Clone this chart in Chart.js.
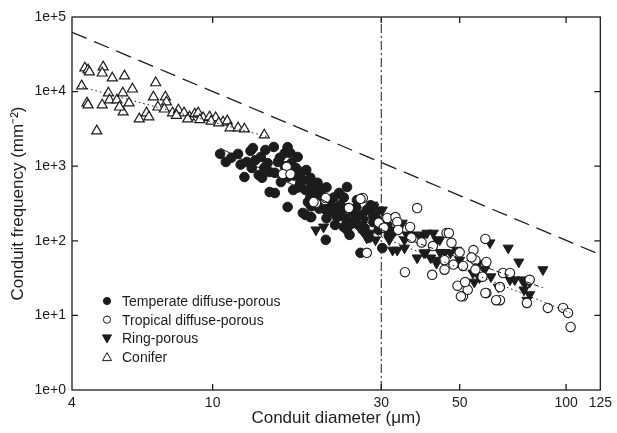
<!DOCTYPE html>
<html>
<head>
<meta charset="utf-8">
<script src="https://cdn.jsdelivr.net/npm/chart.js@4.4.0/dist/chart.umd.min.js"></script>
<style>
    body { margin: 0; background: #fff; }
</style>
</head>
<body>
<canvas id="myChart" width="617" height="433"></canvas>
<script>
// values (diameter um, frequency per mm2)
let temperatePts = [[10.5,1460],[10.9,1140],[11.8,1460],[12.8,1600],[14.1,1650],[14.9,1810],[13.7,1330],[14.3,1100],[12.0,1050],[12.5,1140],
    [12.9,946],[12.3,716],[13.5,762],[13.8,700],[14.5,836],[15.0,815],[15.3,1140],[16.0,1500],[16.6,1500],[17.4,1330],
    [16.7,1100],[17.2,946],[15.6,614],[16.3,716],[16.9,480],[17.8,836],[18.4,889],[18.9,700],[17.7,600],[14.5,451],
    [15.0,437],[19.8,600],[19.2,514],[20.2,451],[18.9,386],[18.6,331],[19.8,331],[16.3,284],[18.3,222],[19.0,208],
    [20.9,259],[20.9,103],[19.0,600],[19.8,570],[18.3,480],[18.0,236],[18.9,208],[19.6,352],[20.2,411],[21.1,321],
    [22.8,438],[24.0,526],[21.6,243],[22.2,163],[23.5,153],[24.4,120],[25.3,190],[26.2,69],[22.5,208],[26.9,148],
    [28.5,179],[30.2,80],[27.3,259],[24.2,275],[25.6,352],[28.0,300],[26.5,222],[31.2,163],[32.3,130],[27.7,110],
    [13.0,1750],[16.3,1800],[23.0,300],[25.0,240],[29.0,200],[21.0,520],[22.0,380],[29.5,140],[31.5,120],
    [11.3,1300],[13.2,1200],[14.0,950],[15.5,1300],[16.0,1000],[17.0,750],[18.0,650],[17.5,520],[19.5,450],[20.5,380],
    [21.5,330],[22.0,280],[23.0,240],[23.8,200],[24.8,170],[26.0,160],[27.0,130],[21.0,200],[20.0,270],[19.0,290],
    [23.5,380],[25.5,280],[28.5,220],[30.5,170],[24.0,140]]

let tropicalPts = [[16.2,975],[15.8,785],[16.6,785],[19.6,321],[20.8,352],[19.3,331],[20.9,375],[26.6,375],[26.2,365],[27.3,69],
    [35.0,38],[37.9,275],[31.2,202],[32.9,208],[33.3,179],[36.2,153],[24.3,275],[41.8,35],[45.3,41],[45.3,55],
    [45.9,127],[47.4,94],[51.1,46],[49.3,25],[51.1,18],[52.7,22],[54.7,75],[55.4,55],[59.1,106],[59.5,20],
    [65.0,16],[66.3,37],[69.4,37],[78.9,30],[77.5,14.7],[88.8,12.6],[98.1,12.6],[101.3,10.8],[103,7.0],[55.4,41],
    [58,33],[65.0,24],[46.6,127],[51.8,28],[50.4,18],[59.5,52],[63.4,16],[59.1,20],[29.5,175],[30.5,150],
    [33.5,140],[36.5,110],[39,95],[42,85],[50,70],[54,60],[48,48]]

let ringPts = [[19.6,140],[20.6,153],[28.4,302],[30.2,259],[26.9,190],[27.9,127],[28.6,284],[29.6,259],[27.3,109],[28.9,103],
    [31.6,103],[33.3,75],[32.3,75],[34.9,80],[35.5,120],[37.1,120],[39.5,120],[42.1,127],[43.9,103],[37.9,59],
    [40.0,69],[41.4,59],[43.0,50],[44.0,70],[34.4,173],[31.8,140],[34.9,103],[38.7,112],[40.4,127],[43.1,103],
    [39.6,69],[43.1,55],[45.4,70],[47.1,69],[49.0,75],[50.0,55],[60.9,94],[68.6,80],[56.5,50],[58.8,41],
    [61.3,33],[64.3,24],[69.4,30],[71.6,30],[73.5,52],[75.1,30],[76.5,27],[78.9,28],[76.0,22],[78.9,19],
    [77.5,16],[86.0,41],[54.5,37],[55.0,28],[56.9,32],[24.5,170],[26,150]]

let coniferPts = [[4.35,20700],[4.44,19500],[4.48,18300],[4.9,21400],[4.87,17700],[5.2,15200],[5.63,16200],[4.26,11900],[4.41,7030],[4.44,6600],
    [4.7,2970],[5.07,9570],[5.57,9570],[5.93,10800],[6.9,13100],[4.87,6600],[5.11,7700],[5.36,7700],[5.58,5330],[5.8,7030],
    [5.45,6200],[6.5,5180],[6.6,4580],[6.8,8460],[7.35,8460],[7.4,7250],[7.0,6200],[7.3,5830],[7.7,5180],[8.0,5660],
    [8.3,5180],[8.6,4580],[8.9,5000],[9.1,5180],[9.4,4460],[9.8,4580],[10.2,4460],[10.7,3900],[11.0,4040],[11.2,3260],
    [11.8,3260],[12.3,3150],[14.0,2620],[7.9,4800],[8.5,4300],[9.2,4200],[9.9,4000],[10.4,3800],[6.2,4300]]

// fitted lines, end points
let coniferFit = [[4.16,11900],[14.4,2460]]
let temperateFit = [[10.5,1750],[32,121]]
let tropicalFit = [[20,245],[103,10.8]]
let ringFit = [[25,190],[86,23.5]]
let limitLine = [[4,62500],[125,65]]
let cutLine = [[30,1],[30,100000]]

let xTicks = [4, 10, 30, 50, 100, 125]
let yTicks = [1, 10, 100, 1000, 10000, 100000]

let labels = ['Temperate diffuse-porous', 'Tropical diffuse-porous', 'Ring-porous', 'Conifer']

const ink = '#1c1c1c'
const fontName = '"Liberation Sans", Arial, sans-serif'

function toXY(pts) {
    return pts.map(p => ({ x: p[0], y: p[1] }))
}

function lineSet(pts, dash, width) {
    return {
        data: toXY(pts),
        showLine: true,
        borderColor: ink,
        borderWidth: width,
        borderDash: dash,
        pointRadius: 0,
        fill: false,
        order: 0
    }
}

function drawMark(ctx, kind, x, y) {
    ctx.beginPath()
    if (kind == 0 || kind == 1) {
        ctx.arc(x, y, 3.6, 0, Math.PI * 2)
    } else if (kind == 2) {
        ctx.moveTo(x - 4.5, y - 3.5); ctx.lineTo(x + 4.5, y - 3.5); ctx.lineTo(x, y + 4.5); ctx.closePath()
    } else {
        ctx.moveTo(x - 4.5, y + 3.5); ctx.lineTo(x + 4.5, y + 3.5); ctx.lineTo(x, y - 4.5); ctx.closePath()
    }
    ctx.fillStyle = (kind == 0 || kind == 2) ? ink : '#fff'
    ctx.fill()
    ctx.lineWidth = 1
    ctx.strokeStyle = ink
    ctx.stroke()
}

const frame = {
    id: 'frame',
    afterDraw(chart) {
        const ctx = chart.ctx
        const a = chart.chartArea
        const sx = chart.scales.x
        const sy = chart.scales.y
        ctx.save()
        ctx.strokeStyle = ink
        ctx.lineWidth = 1.3
        ctx.strokeRect(a.left, a.top, a.right - a.left, a.bottom - a.top)
        ctx.beginPath()
        xTicks.slice(1, -1).forEach(v => {
            const px = sx.getPixelForValue(v)
            ctx.moveTo(px, a.bottom); ctx.lineTo(px, a.bottom - 6)
            ctx.moveTo(px, a.top); ctx.lineTo(px, a.top + 6)
        })
        yTicks.slice(1, -1).forEach(v => {
            const py = sy.getPixelForValue(v)
            ctx.moveTo(a.left, py); ctx.lineTo(a.left + 6, py)
            ctx.moveTo(a.right, py); ctx.lineTo(a.right - 6, py)
        })
        ctx.stroke()

        // legend
        ctx.font = '14px ' + fontName
        ctx.textBaseline = 'middle'
        for (let i = 0; i < labels.length; i++) {
            const y = 301 + i * 18.7
            drawMark(ctx, i, 107, y)
            ctx.fillStyle = ink
            ctx.fillText(labels[i], 122, y + 1)
        }
        ctx.restore()
    }
}

let ctx1 = document.getElementById('myChart').getContext('2d')

let chart1 = new Chart(ctx1, {
    type: 'scatter',
    data: {
        datasets: [
            {
                label: labels[0],
                data: toXY(temperatePts),
                pointStyle: 'circle',
                pointRadius: 4.8,
                backgroundColor: ink,
                borderColor: ink,
                borderWidth: 1,
                order: 4
            },
            {
                label: labels[2],
                data: toXY(ringPts),
                pointStyle: 'triangle',
                pointRotation: 180,
                pointRadius: 5.8,
                backgroundColor: ink,
                borderColor: ink,
                borderWidth: 1,
                order: 3
            },
            {
                label: labels[1],
                data: toXY(tropicalPts),
                pointStyle: 'circle',
                pointRadius: 4.7,
                backgroundColor: '#fff',
                borderColor: ink,
                borderWidth: 1.1,
                order: 2
            },
            {
                label: labels[3],
                data: toXY(coniferPts),
                pointStyle: 'triangle',
                pointRadius: 5.8,
                backgroundColor: '#fff',
                borderColor: ink,
                borderWidth: 1.2,
                order: 1
            },
            lineSet(coniferFit, [1.5, 3], 1),
            lineSet(temperateFit, [], 1),
            lineSet(tropicalFit, [1.5, 3], 1),
            lineSet(ringFit, [5, 3], 1),
            lineSet(limitLine, [16, 8], 1.3),
            lineSet(cutLine, [9, 3, 2, 3], 1)
        ]
    },
    options: {
        responsive: false,
        animation: false,
        layout: { padding: { top: 17, right: 13, left: 0, bottom: 0 } },
        plugins: {
            legend: { display: false },
            tooltip: { enabled: false }
        },
        scales: {
            x: {
                type: 'logarithmic',
                min: 4,
                max: 125,
                afterBuildTicks: s => { s.ticks = xTicks.map(v => ({ value: v })) },
                afterFit: s => { s.height = 43 },
                grid: { display: false, drawTicks: false },
                border: { display: false },
                ticks: {
                    autoSkip: false,
                    maxRotation: 0,
                    padding: 5,
                    color: ink,
                    font: { family: fontName, size: 14 },
                    callback: v => String(v)
                },
                title: {
                    display: true,
                    text: 'Conduit diameter (\u03bcm)',
                    color: ink,
                    font: { family: fontName, size: 17 },
                    padding: { top: 0, bottom: 4 }
                }
            },
            y: {
                type: 'logarithmic',
                min: 1,
                max: 100000,
                afterBuildTicks: s => { s.ticks = yTicks.map(v => ({ value: v })) },
                afterFit: s => { s.width = 72 },
                grid: { display: false, drawTicks: false },
                border: { display: false },
                ticks: {
                    autoSkip: false,
                    padding: 6,
                    color: ink,
                    font: { family: fontName, size: 14 },
                    callback: v => '1e+' + Math.round(Math.log10(v))
                },
                title: {
                    display: true,
                    text: 'Conduit frequency (mm\u207b\u00b2)',
                    color: ink,
                    font: { family: fontName, size: 17 },
                    padding: { top: 8, bottom: 0 }
                }
            }
        }
    },
    plugins: [frame]
});
</script>
</body>
</html>
